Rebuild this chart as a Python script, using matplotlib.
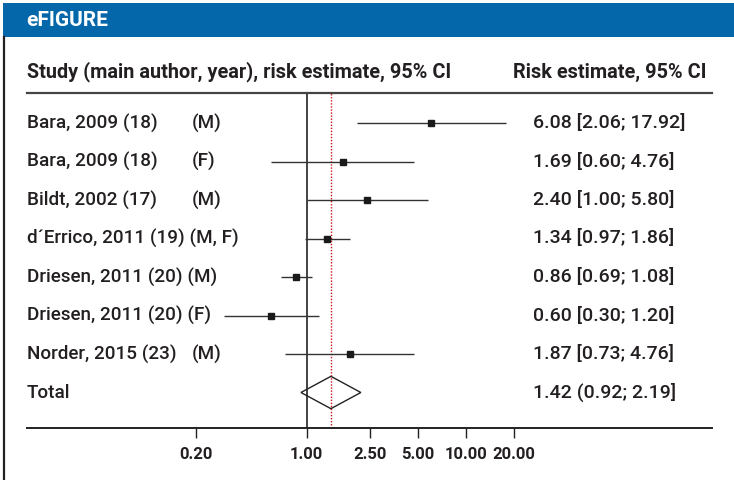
import matplotlib
matplotlib.use("Agg")
import matplotlib.pyplot as plt
import matplotlib.patches as mpatches
import matplotlib.lines as mlines
from matplotlib.transforms import blended_transform_factory
import numpy as np

plt.rcParams['font.family'] = ['Roboto', 'DejaVu Sans']

# ---- data ----
studies = ["Bara, 2009 (18)", "Bara, 2009 (18)", "Bildt, 2002 (17)",
           "d\u00b4Errico, 2011 (19) (M, F)", "Driesen, 2011 (20) (M)",
           "Driesen, 2011 (20) (F)", "Norder, 2015 (23)"]
sex_col = ["(M)", "(F)", "(M)", "", "", "", "(M)"]
estimates = [6.08, 1.69, 2.40, 1.34, 0.86, 0.60, 1.87]
lower = [2.06, 0.60, 1.00, 0.97, 0.69, 0.30, 0.73]
upper = [17.92, 4.76, 5.80, 1.86, 1.08, 1.20, 4.76]
total_label = "Total"
total_est, total_lo, total_hi = 1.42, 0.92, 2.19
value_labels = ["6.08 [2.06; 17.92]", "1.69 [0.60; 4.76]", "2.40 [1.00; 5.80]",
                "1.34 [0.97; 1.86]", "0.86 [0.69; 1.08]", "0.60 [0.30; 1.20]",
                "1.87 [0.73; 4.76]"]
total_value_label = "1.42 (0.92; 2.19]"
xticks = [0.20, 1.00, 2.50, 5.00, 10.00, 20.00]
xtick_labels = ["0.20", "1.00", "2.50", "5.00", "10.00", "20.00"]
title = "eFIGURE"
header_left = "Study (main author, year), risk estimate, 95% CI"
header_right = "Risk estimate, 95% CI"

# ---- figure ----
W, H = 734, 480
fig = plt.figure(figsize=(W / 100, H / 100), dpi=100)
TXT = '#231F20'

def fx(px):
    return px / W

def fy(py):
    return 1 - py / H

# blue title bar
fig.patches.append(mpatches.Rectangle((fx(3), fy(37)), 1, 34 / H,
                                      transform=fig.transFigure,
                                      facecolor='#0467AA', edgecolor='none', zorder=0))
fig.text(fx(26), fy(21), title, color='white', fontsize=15, fontweight='bold',
         va='center', ha='left')
# left border
fig.lines.append(mlines.Line2D([fx(4), fx(4)], [0, fy(37)], transform=fig.transFigure,
                               color='#222222', lw=1.6))

# axes
ax = fig.add_axes([fx(27), fy(428), fx(712) - fx(27), (428 - 93) / H])
ax.set_xscale('log')
x0 = 306.7
ppd = 159.0
ax.set_xlim(10 ** ((27 - x0) / ppd), 10 ** ((712 - x0) / ppd))
row_px = 38.5
ax.set_ylim((428 - 123) / row_px, (93 - 123) / row_px)
ax.patch.set_alpha(0)

for s in ['left', 'right']:
    ax.spines[s].set_visible(False)
ax.spines['top'].set_color('#444444')
ax.spines['top'].set_linewidth(1.6)
ax.spines['bottom'].set_color('#222222')
ax.spines['bottom'].set_linewidth(1.4)
ax.set_yticks([])
ax.minorticks_off()
ax.set_xticks(xticks)
ax.set_xticklabels(xtick_labels, fontweight='bold', fontsize=12, color=TXT)
ax.xaxis.set_minor_locator(matplotlib.ticker.NullLocator())
ax.tick_params(axis='x', direction='out', length=7.5, width=1, color='#222222', pad=6)

ax.axvline(1.0, color='#222222', lw=1.2, zorder=1)
ax.axvline(total_est, color='#D0101A', lw=1.0, linestyle=(0, (1, 1.2)), zorder=1)

n = len(estimates)
ys = np.arange(n)
est = np.array(estimates)
lo = np.array(lower)
hi = np.array(upper)
ax.errorbar(est, ys, xerr=[est - lo, hi - est], fmt='s', ms=5, mfc='#1a1a1a', mec='#1a1a1a',
            ecolor='#333333', elinewidth=1.0, capsize=0, zorder=3)

yt = n
dh = 0.42
diamond = mpatches.Polygon([(total_lo, yt), (total_est, yt - dh), (total_hi, yt), (total_est, yt + dh)],
                           closed=True, fill=False, edgecolor='#222222', lw=1.0, zorder=3)
ax.add_patch(diamond)

# texts
tr = blended_transform_factory(fig.transFigure, ax.transData)
fs = 13.6
fw = 'medium'
for i in range(n):
    ax.text(fx(27), i, studies[i], transform=tr, fontsize=fs, fontweight=fw, color=TXT, va='center', ha='left')
    if sex_col[i]:
        ax.text(fx(192), i, sex_col[i], transform=tr, fontsize=fs, fontweight=fw, color=TXT, va='center', ha='left')
    ax.text(fx(533), i, value_labels[i], transform=tr, fontsize=14, fontweight=fw, color=TXT, va='center', ha='left')
ax.text(fx(27), yt, total_label, transform=tr, fontsize=fs, fontweight=fw, color=TXT, va='center', ha='left')
ax.text(fx(533), yt, total_value_label, transform=tr, fontsize=14, fontweight=fw, color=TXT, va='center', ha='left')

fig.text(fx(27), fy(72), header_left, fontsize=14.3, fontweight='bold', color=TXT, va='center', ha='left')
fig.text(fx(513), fy(72), header_right, fontsize=14.3, fontweight='bold', color=TXT, va='center', ha='left')

fig.savefig('out.png', dpi=100)
